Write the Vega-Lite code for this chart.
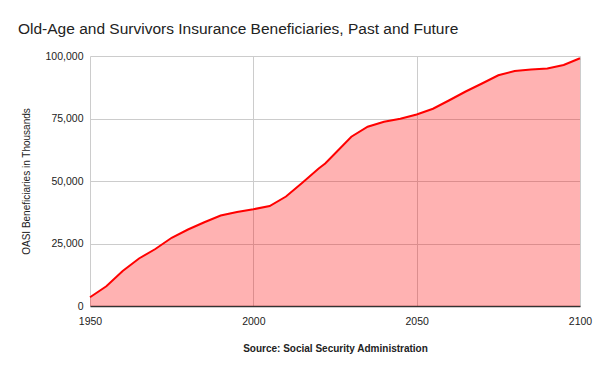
{
  "$schema": "https://vega.github.io/schema/vega-lite/v6.json",
  "autosize": {"type": "none"},
  "width": 490,
  "height": 250,
  "padding": {"left": 90, "top": 56, "right": 20, "bottom": 65},
  "background": "white",
  "title": {
    "text": "Old-Age and Survivors Insurance Beneficiaries, Past and Future",
    "anchor": "start",
    "frame": "group",
    "dx": -72,
    "fontSize": 15.5,
    "font": "Liberation Sans",
    "fontWeight": "normal",
    "color": "#222",
    "offset": 14
  },
  "config": {
    "view": {"stroke": null},
    "axis": {"labelFont": "Liberation Sans", "titleFont": "Liberation Sans", "labelColor": "#222", "titleColor": "#222"}
  },
  "data": {
    "values": [
      {"year": 1950, "beneficiaries": 3500},
      {"year": 1955, "beneficiaries": 7900},
      {"year": 1960, "beneficiaries": 14000},
      {"year": 1965, "beneficiaries": 19000},
      {"year": 1970, "beneficiaries": 22800},
      {"year": 1975, "beneficiaries": 27300},
      {"year": 1980, "beneficiaries": 30600},
      {"year": 1985, "beneficiaries": 33500},
      {"year": 1990, "beneficiaries": 36200},
      {"year": 1995, "beneficiaries": 37600},
      {"year": 2000, "beneficiaries": 38700},
      {"year": 2005, "beneficiaries": 40000},
      {"year": 2010, "beneficiaries": 43800},
      {"year": 2015, "beneficiaries": 49300},
      {"year": 2020, "beneficiaries": 55000},
      {"year": 2022, "beneficiaries": 57000},
      {"year": 2025, "beneficiaries": 61000},
      {"year": 2030, "beneficiaries": 67700},
      {"year": 2035, "beneficiaries": 71700},
      {"year": 2040, "beneficiaries": 73700},
      {"year": 2045, "beneficiaries": 74900},
      {"year": 2050, "beneficiaries": 76600},
      {"year": 2055, "beneficiaries": 78900},
      {"year": 2060, "beneficiaries": 82300},
      {"year": 2065, "beneficiaries": 85800},
      {"year": 2070, "beneficiaries": 89000},
      {"year": 2075, "beneficiaries": 92300},
      {"year": 2080, "beneficiaries": 94000},
      {"year": 2085, "beneficiaries": 94600},
      {"year": 2090, "beneficiaries": 95000},
      {"year": 2095, "beneficiaries": 96400},
      {"year": 2100, "beneficiaries": 99100}
    ]
  },
  "encoding": {
    "x": {
      "field": "year",
      "type": "quantitative",
      "scale": {"domain": [1950, 2100], "nice": false},
      "axis": {
        "values": [1950, 2000, 2050, 2100],
        "format": "d",
        "title": "Source: Social Security Administration",
        "titleFontSize": 10,
        "titleFontWeight": "bold",
        "titlePadding": 17,
        "labelFontSize": 10.5,
        "labelPadding": 10,
        "ticks": false,
        "domainColor": "#333",
        "domainWidth": 1.5,
        "gridColor": "#cccccc",
        "labelFlush": false
      }
    },
    "y": {
      "field": "beneficiaries",
      "type": "quantitative",
      "scale": {"domain": [0, 100000], "nice": false},
      "axis": {
        "values": [0, 25000, 50000, 75000, 100000],
        "format": ",d",
        "title": "OASI Beneficiaries in Thousands",
        "titleFontSize": 10,
        "titleFontWeight": "normal",
        "titlePadding": 14,
        "labelFontSize": 10.5,
        "labelPadding": 7,
        "ticks": false,
        "domain": false,
        "gridColor": "#cccccc"
      }
    }
  },
  "layer": [
    {"mark": {"type": "area", "color": "#ff0000", "fillOpacity": 0.3}},
    {"mark": {"type": "line", "color": "#ff0000", "strokeWidth": 2}}
  ]
}
